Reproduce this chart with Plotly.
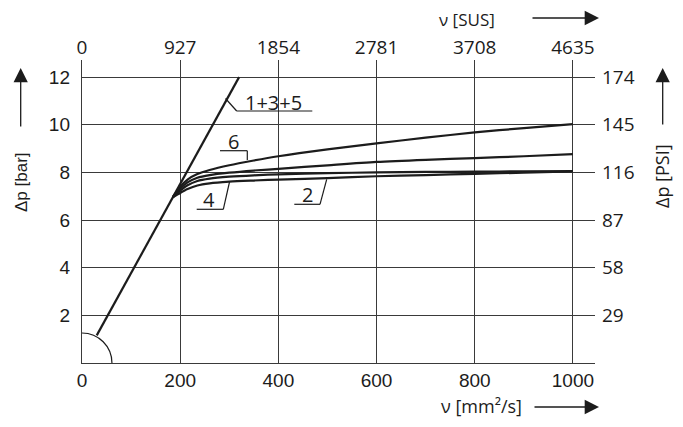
import plotly.graph_objects as go

# ---------------- data ----------------
x_ticks = [0, 200, 400, 600, 800, 1000]
sus_labels = ["0", "927", "1854", "2781", "3708", "4635"]
y_ticks = [2, 4, 6, 8, 10, 12]
psi_labels = ["29", "58", "87", "116", "145", "174"]

line135_x = [30, 320]
line135_y = [1.16, 12.0]

c6_x = [185, 200, 215, 235, 260, 300, 350, 400, 500, 600, 700, 800, 900, 1000]
c6_y = [6.96, 7.40, 7.70, 7.93, 8.10, 8.30, 8.50, 8.68, 8.97, 9.22, 9.46, 9.68, 9.86, 10.03]

cA_x = [185, 200, 215, 235, 260, 300, 350, 400, 500, 600, 700, 800, 900, 1000]
cA_y = [6.96, 7.32, 7.58, 7.78, 7.89, 7.99, 8.08, 8.15, 8.30, 8.44, 8.53, 8.60, 8.68, 8.77]

c4_x = [185, 200, 215, 235, 260, 300, 350, 400, 500, 600, 700, 800, 900, 1000]
c4_y = [6.96, 7.24, 7.46, 7.64, 7.74, 7.82, 7.88, 7.92, 7.97, 8.00, 8.02, 8.03, 8.05, 8.06]

c2_x = [185, 200, 215, 235, 260, 300, 350, 400, 500, 600, 700, 800, 900, 1000]
c2_y = [6.96, 7.14, 7.30, 7.45, 7.54, 7.61, 7.66, 7.70, 7.76, 7.84, 7.89, 7.94, 7.99, 8.04]

# ---------------- layout geometry ----------------
W, H = 683, 427
OFF = 8  # default page (body) margin of the HTML page
ML, MT = 82 - OFF, 60 - OFF
PW, PH = 513, 303
MR = W - ML - PW
MB = H - MT - PH
X_RANGE = [0, 1045]
Y_RANGE = [0, 12.72]

def px(xp):
    return (xp - OFF - ML) / PW

def py(yp):
    return (MT + PH - (yp - OFF)) / PH

INK = "#1c1c1c"
GRID = "#3a3a3a"
FONT_A = "Liberation Sans, Arial, sans-serif"
FONT_B = "Open Sans, Noto Sans, sans-serif"

fig = go.Figure()

fig.add_trace(go.Scatter(x=line135_x, y=line135_y, mode="lines",
                         line=dict(color=INK, width=2.2), hoverinfo="skip"))
for xs, ys in [(c6_x, c6_y), (cA_x, cA_y), (c4_x, c4_y), (c2_x, c2_y)]:
    fig.add_trace(go.Scatter(x=xs, y=ys, mode="lines",
                             line=dict(color=INK, width=2.2, shape="spline", smoothing=0.8),
                             hoverinfo="skip"))
# invisible trace to activate secondary axes
fig.add_trace(go.Scatter(x=x_ticks, y=y_ticks, xaxis="x2", yaxis="y2", mode="markers",
                         marker=dict(opacity=0), hoverinfo="skip"))

shapes = []
# quarter circle at origin
shapes.append(dict(type="circle", xref="x", yref="y", x0=-61, x1=61, y0=-1.26, y1=1.26,
                   line=dict(color=INK, width=1.2), layer="above"))

def seg(x0, y0, x1, y1, w=1.2):
    shapes.append(dict(type="line", xref="paper", yref="paper",
                       x0=px(x0), y0=py(y0), x1=px(x1), y1=py(y1),
                       line=dict(color=INK, width=w)))

# leaders for labels
seg(225.5, 98.5, 236.7, 111); seg(236.7, 111, 312.3, 111)
seg(220, 150.7, 247.3, 150.7); seg(247.3, 150.7, 247.3, 160)
seg(196.7, 209.3, 223.3, 209.3); seg(223.3, 209.3, 229.5, 182)
seg(294.3, 204.3, 320, 204.3); seg(320, 204.3, 326.7, 179.3)

annotations = []
def label(text, x, y, size=20, fam=FONT_B, angle=0):
    annotations.append(dict(text=text, x=px(x), y=py(y), xref="paper", yref="paper",
                            showarrow=False, textangle=angle, borderpad=0,
                            font=dict(family=fam, size=size, color=INK),
                            xanchor="center", yanchor="middle"))

label("1+3+5", 273.5, 102)
label("6", 233, 141)
label("4", 209, 199)
label("2", 307, 195)

label("ν [SUS]", 467, 19.5, size=17)
label("ν [mm²/s]", 481, 406, size=18)
label("Δp [bar]", 21, 182, size=17, fam=FONT_A, angle=-90)
label("Δp [PSI]", 662, 176, size=18, angle=-90)

def arrow(x_tip, y_tip, x_tail, y_tail):
    annotations.append(dict(text="", x=px(x_tip), y=py(y_tip), xref="paper", yref="paper",
                            ax=x_tail - x_tip, ay=y_tail - y_tip, axref="pixel", ayref="pixel",
                            showarrow=True, arrowhead=2, arrowsize=2.2, arrowwidth=1.3,
                            arrowcolor=INK))

arrow(599, 18, 531, 18)
arrow(599, 407, 533, 407)
arrow(20.7, 68, 20.7, 128)
arrow(662.7, 68, 662.7, 126)

fig.update_layout(
    width=W, height=H,
    margin=dict(l=ML, r=MR, t=MT, b=MB),
    paper_bgcolor="white", plot_bgcolor="white",
    showlegend=False,
    shapes=shapes, annotations=annotations,
    xaxis=dict(range=X_RANGE, tickvals=x_ticks, ticktext=[str(v) for v in x_ticks],
               showgrid=True, gridcolor=GRID, gridwidth=1.2, zeroline=False,
               showline=True, linecolor=GRID, linewidth=1.4, ticks="",
               ticklabelstandoff=0,
               tickfont=dict(family=FONT_A, size=19, color=INK), fixedrange=True),
    yaxis=dict(range=Y_RANGE, tickvals=y_ticks, ticktext=[str(v) for v in y_ticks],
               showgrid=True, gridcolor=GRID, gridwidth=1.2, zeroline=False,
               showline=True, linecolor=GRID, linewidth=1.4, ticks="",
               ticklabelstandoff=7,
               tickfont=dict(family=FONT_A, size=19, color=INK), fixedrange=True),
    xaxis2=dict(range=X_RANGE, tickvals=x_ticks, ticktext=sus_labels, overlaying="x",
                side="top", anchor="y2", showgrid=False, zeroline=False, showline=False,
                ticks="", ticklabelstandoff=1,
                tickfont=dict(family=FONT_B, size=19, color=INK), fixedrange=True),
    yaxis2=dict(range=Y_RANGE, tickvals=y_ticks, ticktext=psi_labels, overlaying="y",
                side="right", anchor="x2", showgrid=False, zeroline=False, showline=False,
                ticks="", ticklabelstandoff=6,
                tickfont=dict(family=FONT_B, size=19, color=INK), fixedrange=True),
)

fig.write_html("out.html")
